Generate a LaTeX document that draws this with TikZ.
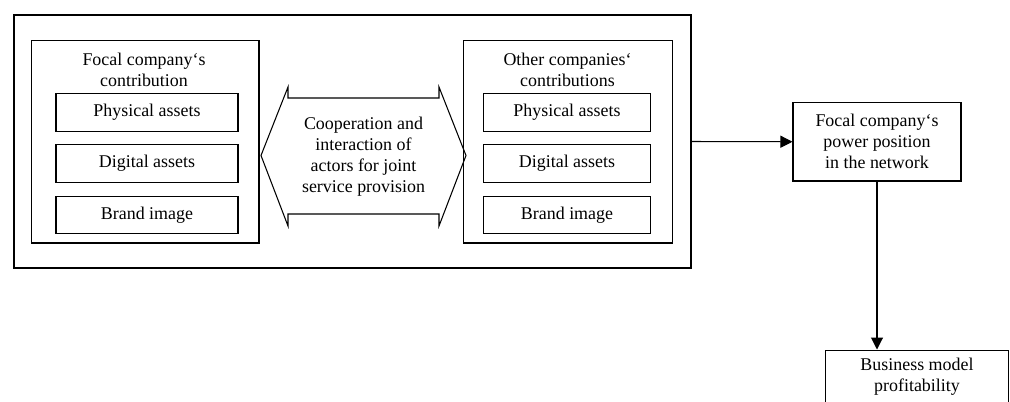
\documentclass[tikz,border=0pt]{standalone}
\usepackage{fontspec}
\setmainfont{Liberation Serif}
\usetikzlibrary{arrows.meta, positioning}
\tikzstyle{frame} = [draw, line width=0.6pt, minimum width=13.54cm, minimum height=5.06cm]
\tikzstyle{group} = [draw, line width=0.6pt, minimum height=4.05cm]
\tikzstyle{asset} = [draw, line width=0.6pt, minimum height=0.75cm]
\tikzstyle{result} = [draw, line width=0.6pt, align=center]
\tikzstyle{link} = [-{Triangle[length=0.24cm,width=0.24cm]}, line width=0.6pt]

\begin{document}
\begin{tikzpicture}[font=\fontsize{10.2}{12}\selectfont]
  \useasboundingbox (0,0) rectangle (20.2,-8.02);
  \clip (0,0) rectangle (20.2,-8.02);

  % network frame
  \node[frame] (net) at (7.05,-2.83) {};

  % focal company
  \node[group, minimum width=4.55cm] (focal) at (2.905,-2.835) {};
  \node[align=center] (focalT) at (2.88,-1.39) {Focal company‘s\\contribution};
  \node[asset, minimum width=3.64cm] (fPhys) at (2.94,-2.25) {Physical assets};
  \node[asset, minimum width=3.64cm] (fDig) at (2.94,-3.27) {Digital assets};
  \node[asset, minimum width=3.64cm] (fBrand) at (2.94,-4.30) {Brand image};

  % other companies
  \node[group, minimum width=4.18cm] (other) at (11.36,-2.835) {};
  \node[align=center] (otherT) at (11.35,-1.39) {Other companies‘\\contributions};
  \node[asset, minimum width=3.34cm] (oPhys) at (11.34,-2.25) {Physical assets};
  \node[asset, minimum width=3.34cm] (oDig) at (11.34,-3.27) {Digital assets};
  \node[asset, minimum width=3.34cm] (oBrand) at (11.34,-4.30) {Brand image};

  % cooperation
  \draw[line width=0.6pt] (5.22,-3.11) -- (5.76,-1.74) -- (5.76,-1.96) -- (8.78,-1.96)
    -- (8.78,-1.74) -- (9.32,-3.11) -- (8.78,-4.52) -- (8.78,-4.28) -- (5.76,-4.28)
    -- (5.76,-4.52) -- cycle;
  \node[align=center] (coop) at (7.27,-3.14)
    {Cooperation and\\interaction of\\actors for joint\\service provision};

  % outcomes
  \node[result, minimum width=3.36cm, minimum height=1.57cm] (power) at (17.54,-2.835)
    {Focal company‘s\\power position\\in the network};
  \node[result, anchor=north, inner ysep=4.5pt, text depth=0.6cm, minimum width=3.65cm] (profit) at (18.34,-6.99)
    {Business model\\profitability};

  \draw[link] (net.east) -- (power.west);
  \draw[link] (power.south) -- (power.south |- profit.north);
\end{tikzpicture}
\end{document}
